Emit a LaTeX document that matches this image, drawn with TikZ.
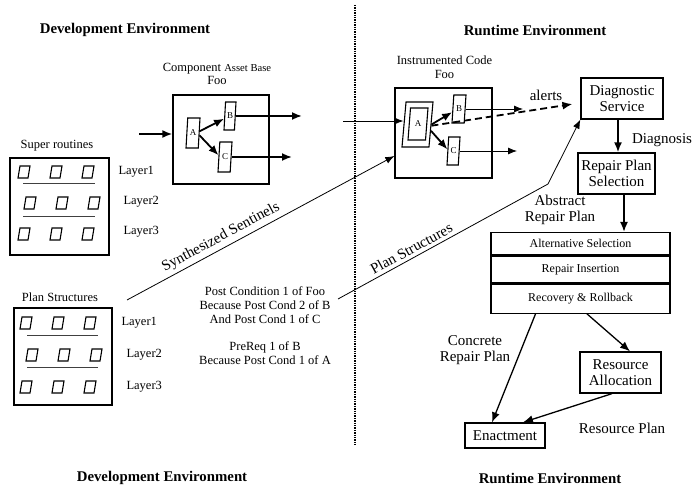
\documentclass[tikz,border=0pt]{standalone}
\usepackage{fontspec}
\setmainfont{Liberation Serif}
\usetikzlibrary{calc,arrows.meta,positioning,shapes.geometric}

\begin{document}
\begin{tikzpicture}[x=1pt,y=-1pt,
  big/.style={font=\fontsize{15}{16.5}\selectfont,align=center},
  mid/.style={font=\fontsize{12.5}{14}\selectfont,align=center},
  hdr/.style={font=\fontsize{14.8}{16}\selectfont\bfseries},
  box/.style={draw,line width=1.3pt,inner sep=0pt},
  para/.style={draw,line width=1.1pt,trapezium,trapezium stretches=true,
    trapezium left angle=80,trapezium right angle=100,inner sep=1pt,
    font=\fontsize{9}{9}\selectfont},
  cell/.style={para,trapezium left angle=76,trapezium right angle=104,
    minimum width=12pt,minimum height=12pt},
  heavy/.style={-{Latex[length=10pt,width=8pt]},line width=1.8pt},
  plain/.style={-{Latex[length=10pt,width=8pt]},line width=1.3pt},
  light/.style={-{Latex[length=9pt,width=7pt]},line width=0.8pt}]
  \useasboundingbox (0,0) rectangle (693,486);
  \node[hdr] (devtop) at (125,30) {Development Environment};
  \node[hdr] (runtop) at (535,30) {Runtime Environment};
  \node[hdr] (devbot) at (162,478) {Development Environment};
  \node[hdr] (runbot) at (550,478) {Runtime Environment};
  \coordinate (divtop) at (355,5);
  \coordinate (divbot) at (355,445);
  \draw[line width=1.4pt,densely dotted] (divtop) -- (divbot);

  % layered structures on the left
  \node[mid] (suplbl) at (57,146) {Super routines};
  \node[box,minimum width=99pt,minimum height=97pt] (sup) at (59.5,206.5) {};
  \node[mid] (planlbl) at (60,297) {Plan Structures};
  \node[box,minimum width=98pt,minimum height=97pt] (plan) at (63,356.5) {};
  \foreach \r/\ya/\yb/\dx in {1/172/323/0,2/203/355/6,3/234/387/0}{
    \foreach \c/\x in {1/24,2/56,3/88}{
      \node[cell] (sup\r\c) at (\x+\dx,\ya) {};
      \node[cell] (plan\r\c) at (\x+\dx+2,\yb) {};
    }
  }
  \foreach \r/\ya/\yb/\dx in {1/172/323/0,2/202/355/5,3/232/387/5}{
    \node[mid,anchor=west] (suplay\r) at (115+\dx,\ya) {Layer\r};
    \node[mid,anchor=west] (planlay\r) at (118+\dx,\yb) {Layer\r};
  }
  \foreach \ya/\yb in {184/335,217/367}{
    \draw[line width=1pt,black!75] (23,\ya) -- (95,\ya);
    \draw[line width=1pt,black!75] (27,\yb) -- (98,\yb);
  }

  % component asset base
  \node[font=\fontsize{12.5}{12.5}\selectfont,align=center] (comptitle) at (217,74)
    {Component {\fontsize{10.6}{12}\selectfont Asset Base}\\Foo};
  \node[box,minimum width=96pt,minimum height=89pt] (comp) at (221,139.5) {};
  \node[para,minimum width=14pt,minimum height=30pt] (compA) at (193,133) {A};
  \node[para,minimum width=12pt,minimum height=28pt] (compB) at (230,116) {B};
  \node[para,minimum width=14pt,minimum height=30pt] (compC) at (225,157) {C};
  \coordinate (compin) at (139,134);
  \coordinate (compBout) at (302,0);
  \coordinate (compCout) at (292,0);
  \draw[heavy] (compin) -- (compin -| comp.west);
  \draw[heavy] (compA.15) -- (compB.205);
  \draw[heavy] (compA.-20) -- (compC.165);
  \draw[heavy] (compB.east) -- (compB.east -| compBout);
  \draw[heavy] (compC.east) -- (compC.east -| compCout);

  % instrumented code
  \node[mid] (insttitle) at (444.5,67) {Instrumented Code\\Foo};
  \node[box,minimum width=97pt,minimum height=90pt] (inst) at (443.5,133) {};
  \node[para,minimum width=31pt,minimum height=45pt] (instA) at (417.5,124.5) {};
  \node[para,minimum width=20pt,minimum height=32pt] (instAin) at (418,124) {A};
  \node[para,minimum width=14pt,minimum height=28pt] (instB) at (459,109) {B};
  \node[para,minimum width=13pt,minimum height=28pt] (instC) at (453.5,151) {C};
  \coordinate (instin) at (343,121);
  \coordinate (instBout) at (523,0);
  \coordinate (instCout) at (517,0);
  \draw[light] (instin) -- (instin -| instA.west);
  \draw[heavy] (instA.east) -- (instB.205);
  \draw[heavy] (instA.-25) -- (instC.165);
  \draw[light] (instB.east) -- (instB.east -| instBout);
  \draw[light] (instC.east) -- (instC.east -| instCout);

  % runtime chain
  \node[box,big,minimum width=82pt,minimum height=41pt] (diag) at (622,98.5) {Diagnostic\\Service};
  \node[box,big,minimum width=77pt,minimum height=41pt] (sel) at (616.5,173.5) {Repair Plan\\Selection};
  \node[box,font=\fontsize{12}{12}\selectfont,minimum width=179pt,minimum height=22pt,anchor=north] (alt) at (580.5,232) {Alternative Selection};
  \node[box,font=\fontsize{12}{12}\selectfont,minimum width=179pt,minimum height=27pt,below=0pt of alt] (ins) {Repair Insertion};
  \node[box,font=\fontsize{12}{12}\selectfont,minimum width=179pt,minimum height=29pt,below=0pt of ins] (rec) {Recovery \& Rollback};
  \node[box,big,minimum width=81pt,minimum height=41pt] (res) at (620.5,372.5) {Resource\\Allocation};
  \node[box,big,minimum width=80pt,minimum height=25pt] (enact) at (505,435.5) {Enactment};
  \node[big] (alertlbl) at (546,95) {alerts};
  \node[big] (diaglbl) at (662,140) {Diagnosis};
  \node[big] (abslbl) at (560,210) {Abstract\\Repair Plan};
  \node[big] (conclbl) at (475,350) {Concrete\\Repair Plan};
  \node[big] (reslbl) at (622,428) {Resource Plan};
  \node[mid] (postcond) at (265,305) {Post Condition 1 of Foo\\Because Post Cond 2 of B\\And Post Cond 1 of C};
  \node[mid] (prereq) at (265,353) {PreReq 1 of B\\Because Post Cond 1 of A};
  \draw[heavy,dash pattern=on 7pt off 4pt,shorten >=8pt] (instA.-5) -- (diag.186);
  \draw[heavy] ([xshift=-4pt]diag.south) -- ([xshift=-4pt]diag.south |- sel.north);
  \draw[heavy] ([xshift=7.5pt]sel.south) -- ([xshift=7.5pt]sel.south |- alt.north);
  \draw[plain] ([xshift=-45pt]rec.south) -- ([xshift=-13pt]enact.north);
  \draw[plain] ([xshift=6.5pt]rec.south) -- ([xshift=9.5pt]res.north);
  \draw[plain] ([xshift=-8.5pt]res.south) -- ([xshift=18pt]enact.north);

  % sentinels and plan structures
  \coordinate (sentfrom) at (127,300);
  \coordinate (planfrom) at (338,299);
  \coordinate (planbend) at (548,184);
  \draw[light] (sentfrom) -- node[big,pos=0.37,above,sloped] {Synthesized Sentinels} ($(inst.west)+(0,23)$);
  \draw[light] (planfrom) -- node[big,pos=0.37,above,sloped] {Plan Structures} (planbend) -- (diag.south west);
\end{tikzpicture}
\end{document}
